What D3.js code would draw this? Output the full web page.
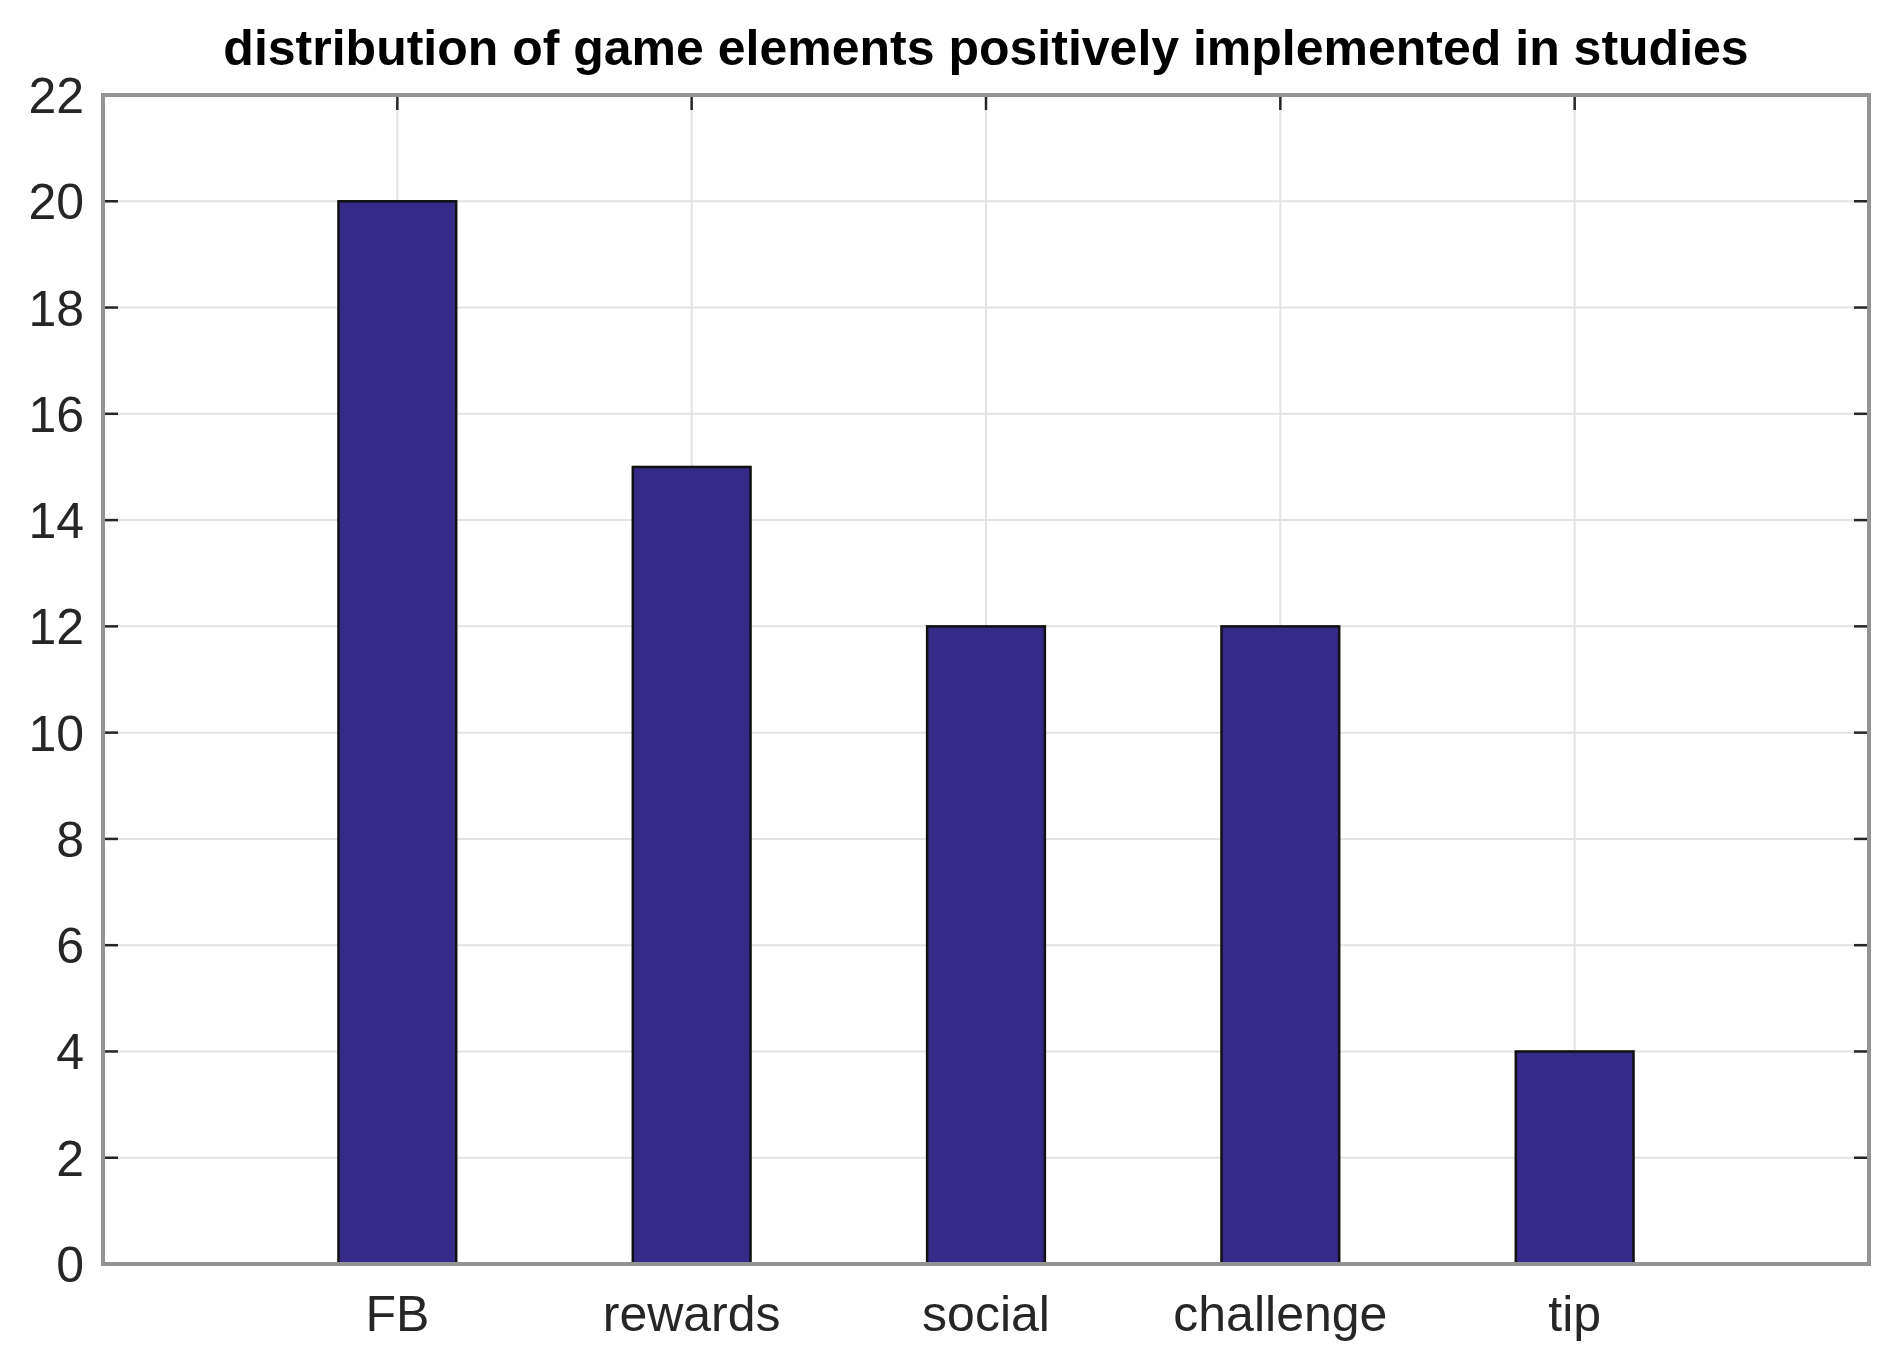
<!DOCTYPE html>
<html>
<head>
<meta charset="utf-8">
<script src="https://cdn.jsdelivr.net/npm/d3@7"></script>
<style>
  body { margin: 0; background: #fff; }
  text { font-family: "Liberation Sans", Arial, sans-serif; }
</style>
</head>
<body>
<script>
var categories = ["FB", "rewards", "social", "challenge", "tip"];
var values = [20, 15, 12, 12, 4];
var yTicks = [0, 2, 4, 6, 8, 10, 12, 14, 16, 18, 20, 22];
var title = "distribution of game elements positively implemented in studies";

var width = 1895;
var height = 1357;
var margin = {top: 95, right: 26, bottom: 93, left: 103};
var plotW = width - margin.left - margin.right;
var plotH = height - margin.top - margin.bottom;

var x = d3.scaleLinear().domain([0, categories.length + 1]).range([0, plotW]);
var y = d3.scaleLinear().domain([0, 22]).range([plotH, 0]);
var barW = x(0.4) - x(0);

var svg = d3.select("body")
    .append("svg")
    .attr("width", width)
    .attr("height", height);

var g = svg.append("g")
    .attr("transform", "translate(" + margin.left + "," + margin.top + ")");

//grid
g.selectAll("line.hgrid")
    .data(yTicks)
    .enter()
    .append("line")
    .attr("x1", 0).attr("x2", plotW)
    .attr("y1", function(d) { return y(d); })
    .attr("y2", function(d) { return y(d); })
    .attr("stroke", "#e3e3e3")
    .attr("stroke-width", 2);

g.selectAll("line.vgrid")
    .data(categories)
    .enter()
    .append("line")
    .attr("x1", function(d, i) { return x(i + 1); })
    .attr("x2", function(d, i) { return x(i + 1); })
    .attr("y1", 0).attr("y2", plotH)
    .attr("stroke", "#e3e3e3")
    .attr("stroke-width", 2);

//ticks inside, both sides
var tickLen = 15;
yTicks.forEach(function(t) {
  g.append("line").attr("x1", 0).attr("x2", tickLen)
    .attr("y1", y(t)).attr("y2", y(t))
    .attr("stroke", "#262626").attr("stroke-width", 2.5);
  g.append("line").attr("x1", plotW - tickLen).attr("x2", plotW)
    .attr("y1", y(t)).attr("y2", y(t))
    .attr("stroke", "#262626").attr("stroke-width", 2.5);
});
categories.forEach(function(c, i) {
  g.append("line").attr("x1", x(i + 1)).attr("x2", x(i + 1))
    .attr("y1", 0).attr("y2", tickLen)
    .attr("stroke", "#262626").attr("stroke-width", 2.5);
});

//bars
g.selectAll("rect.bar")
    .data(values)
    .enter()
    .append("rect")
    .attr("class", "bar")
    .attr("x", function(d, i) { return x(i + 1) - barW / 2; })
    .attr("y", function(d) { return y(d); })
    .attr("width", barW)
    .attr("height", function(d) { return y(0) - y(d); })
    .attr("fill", "#352a87")
    .attr("stroke", "#111")
    .attr("stroke-width", 2.5);

//box
g.append("rect")
    .attr("x", 0).attr("y", 0)
    .attr("width", plotW).attr("height", plotH)
    .attr("fill", "none")
    .attr("stroke", "#939393")
    .attr("stroke-width", 4);

//tick labels
g.selectAll("text.ylab")
    .data(yTicks)
    .enter()
    .append("text")
    .attr("x", -19)
    .attr("y", function(d) { return y(d); })
    .attr("dy", "0.36em")
    .attr("text-anchor", "end")
    .attr("font-size", 50)
    .attr("fill", "#262626")
    .text(function(d) { return d; });

g.selectAll("text.xlab")
    .data(categories)
    .enter()
    .append("text")
    .attr("x", function(d, i) { return x(i + 1); })
    .attr("y", plotH + 67)
    .attr("text-anchor", "middle")
    .attr("font-size", 50)
    .attr("fill", "#262626")
    .text(function(d) { return d; });

svg.append("text")
    .attr("x", margin.left + plotW / 2)
    .attr("y", 65)
    .attr("text-anchor", "middle")
    .attr("font-size", 50)
    .attr("font-weight", "bold")
    .attr("fill", "#000")
    .text(title);
</script>
</body>
</html>
